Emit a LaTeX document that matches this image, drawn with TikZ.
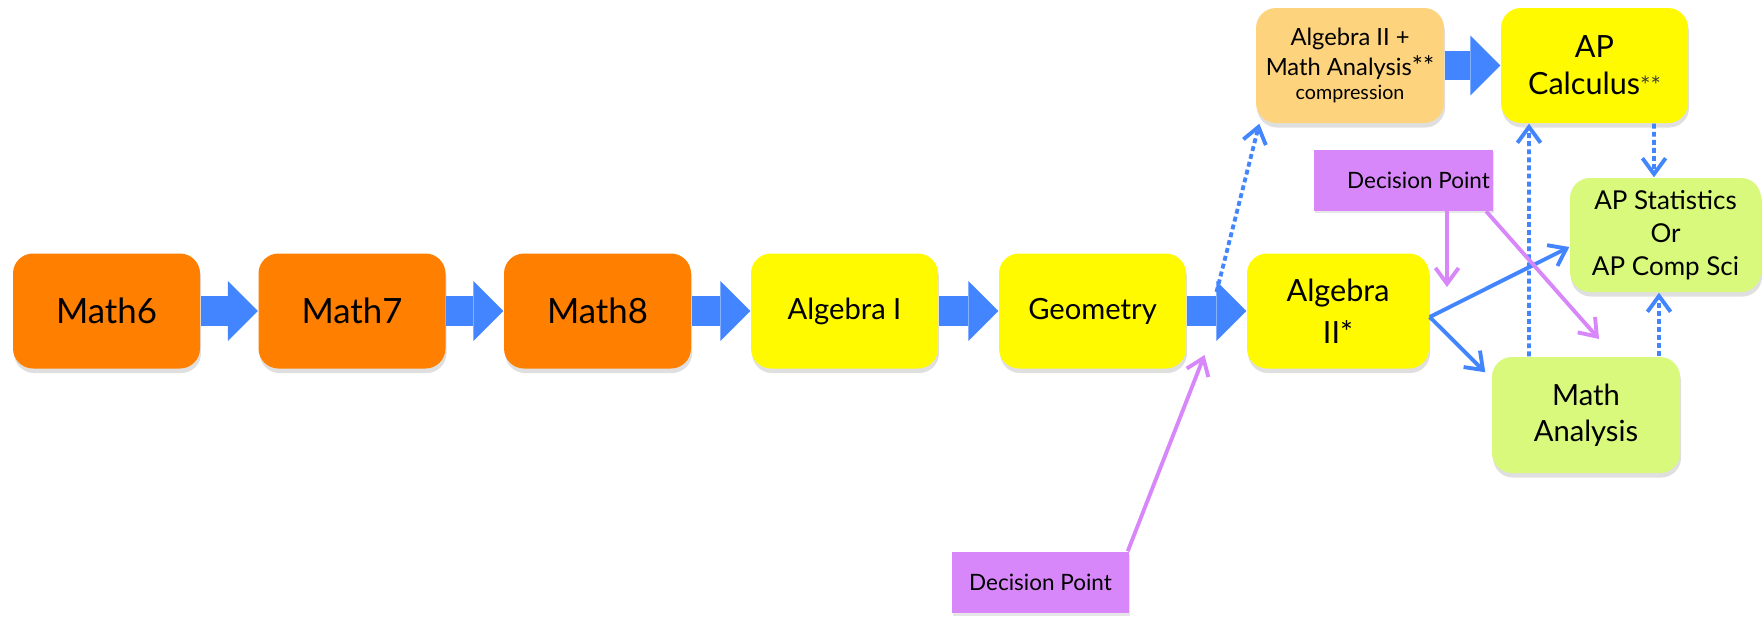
\documentclass[tikz,border=0pt]{standalone}
\usepackage{fontspec}
\setmainfont{Lato}
\usetikzlibrary{arrows.meta,shadows,calc}

\definecolor{boxorange}{RGB}{255,128,0}
\definecolor{boxyellow}{RGB}{255,250,0}
\definecolor{boxpeach}{RGB}{254,211,125}
\definecolor{boxgreen}{RGB}{216,249,124}
\definecolor{decpurple}{RGB}{216,135,250}
\definecolor{arrowblue}{RGB}{66,133,255}

\begin{document}
\begin{tikzpicture}[
  box/.style={rounded corners=0.2cm, minimum width=1.87cm, minimum height=1.15cm,
    align=center, inner sep=1pt,
    drop shadow={opacity=0.25, shadow xshift=0.3pt, shadow yshift=-1.3pt}},
  decbox/.style={fill=decpurple, minimum width=1.77cm, minimum height=0.61cm,
    inner sep=1pt, font=\fontsize{6.4pt}{7.5pt}\selectfont,
    drop shadow={opacity=0.2, shadow xshift=0.3pt, shadow yshift=-0.8pt}},
  blockarrow/.style={draw=arrowblue, line width=8.5pt,
    -{Triangle[length=8.5pt, width=17pt, line width=0pt]}},
  thinarrow/.style={draw=arrowblue, line width=1.1pt,
    -{Straight Barb[length=4.5pt, width=6.6pt]}},
  dotarrow/.style={thinarrow, dash pattern=on 1.4pt off 0.9pt},
  decarrow/.style={draw=decpurple, line width=1.1pt,
    -{Straight Barb[length=4.5pt, width=6.6pt]}}]
\useasboundingbox (0,0) rectangle (17.64,6.17);
% main chain
\node[box, fill=boxorange, font=\fontsize{9.9pt}{12pt}\selectfont] (mathsix) at (1.065,3.06) {Math6};
\node[box, fill=boxorange, font=\fontsize{9.9pt}{12pt}\selectfont] (mathseven) at (3.52,3.06) {Math7};
\node[box, fill=boxorange, font=\fontsize{9.9pt}{12pt}\selectfont] (matheight) at (5.975,3.06) {Math8};
\node[box, fill=boxyellow, font=\fontsize{8.3pt}{10pt}\selectfont] (algone) at (8.445,3.06) {Algebra I};
\node[box, fill=boxyellow, font=\fontsize{8.3pt}{10pt}\selectfont] (geometry) at (10.925,3.06) {Geometry};
\node[box, fill=boxyellow, minimum width=1.82cm, font=\fontsize{8.7pt}{12pt}\selectfont] (algtwo) at (13.38,3.06) {Algebra\\II*};
% upper track
\node[box, fill=boxpeach, minimum width=1.88cm, font=\fontsize{6.75pt}{8.5pt}\selectfont] (algtwoplus) at (13.50,5.515)
  {Algebra II +\\Math Analysis{\fontsize{7.5pt}{7.5pt}\selectfont**}\\[-1.7pt]{\fontsize{5.6pt}{6.8pt}\selectfont compression}};
\node[box, fill=boxyellow, font=\fontsize{8.7pt}{10.5pt}\selectfont] (apcalc) at (15.945,5.515)
  {AP\\Calculus{\color{darkgray}\fontsize{7pt}{7pt}\selectfont**}};
% right column
\node[box, fill=boxgreen, minimum width=1.91cm, minimum height=1.14cm, font=\fontsize{7.4pt}{9.4pt}\selectfont] (apstats) at (16.655,3.82)
  {AP Statistics\\Or\\AP Comp Sci};
\node[box, fill=boxgreen, minimum width=1.88cm, minimum height=1.16cm, font=\fontsize{8.3pt}{10.2pt}\selectfont] (mathan) at (15.86,2.02)
  {Math\\Analysis};
% decision points
\node[decbox] (dptop) at (14.035,4.37) {\hspace{0.3cm}Decision Point};
\node[decbox] (dplow) at (10.405,0.345) {Decision Point};
% block arrows
\draw[blockarrow] (mathsix) -- (mathseven);
\draw[blockarrow] (mathseven) -- (matheight);
\draw[blockarrow] (matheight) -- (algone);
\draw[blockarrow] (algone) -- (geometry);
\draw[blockarrow] (geometry) -- (algtwo);
\draw[blockarrow] (algtwoplus) -- (apcalc);
% fork on the geometry arrow
\coordinate (fork) at ($(geometry.east)!0.5!(algtwo.west)+(0,0.19)$);
\coordinate (forkbelow) at ($(geometry.east)!0.5!(algtwo.west)+(-0.12,-0.44)$);
\coordinate (dpdown) at (14.47,3.30);
\coordinate (dpmath) at (15.99,2.78);
% dotted arrows
\draw[dotarrow] (fork) -- ([xshift=0.04cm]algtwoplus.south west);
\draw[dotarrow] ([xshift=-0.57cm]mathan.north) -- ([xshift=-0.655cm]apcalc.south);
\draw[dotarrow] ([xshift=0.595cm]apcalc.south) -- ([xshift=-0.115cm]apstats.north);
\draw[dotarrow] ([xshift=0.73cm]mathan.north) -- ([xshift=-0.065cm]apstats.south);
% solid arrows from algebra II
\draw[thinarrow] ([yshift=-0.06cm]algtwo.east) -- ([yshift=-0.12cm]apstats.west);
\draw[thinarrow] ([yshift=-0.06cm]algtwo.east) -- ([xshift=-0.06cm,yshift=-0.16cm]mathan.north west);
% decision arrows
\draw[decarrow] ([xshift=-0.02cm]dplow.north east) -- (forkbelow);
\draw[decarrow] (dptop.south -| dpdown) -- (dpdown);
\draw[decarrow] ([xshift=-0.08cm]dptop.south east) -- (dpmath);
\end{tikzpicture}
\end{document}
